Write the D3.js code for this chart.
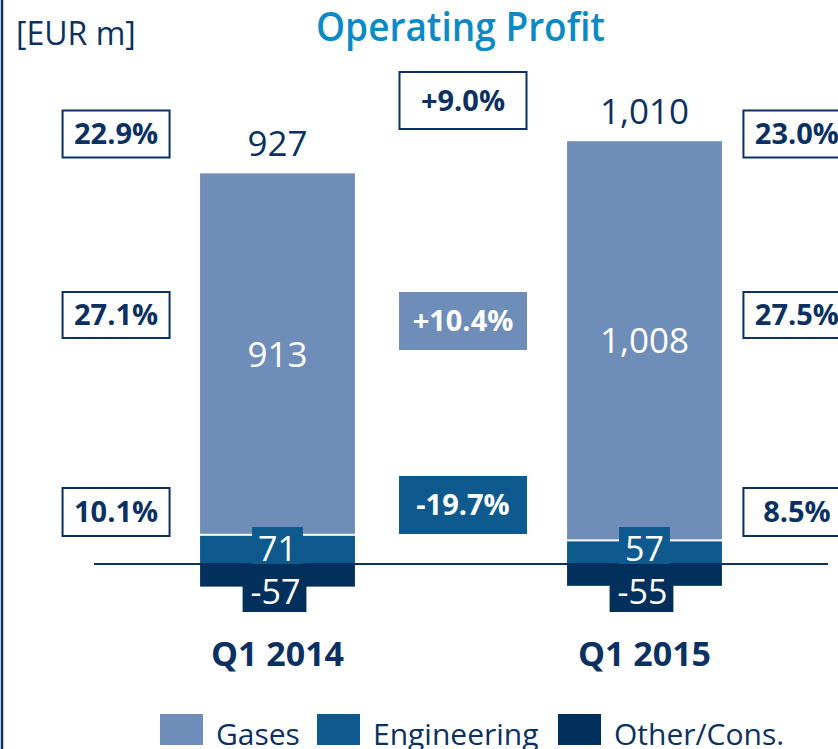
<!DOCTYPE html>
<html>
<head>
<meta charset="utf-8">
<script src="https://cdn.jsdelivr.net/npm/d3@7/dist/d3.min.js"></script>
<style>
  html, body { margin: 0; padding: 0; background: #fff; }
  svg { display: block; }
  text { font-family: "Open Sans", "Noto Sans", sans-serif; }
</style>
</head>
<body>
<svg id="chart" width="838" height="749"></svg>
<script>
// ---- data ----
const categories = ["Q1 2014", "Q1 2015"];
const gases = [913, 1008];
const engineering = [71, 57];
const other = [-57, -55];
const totals = [927, 1010];
const totalMargin = ["22.9%", "23.0%"];
const gasesMargin = ["27.1%", "27.5%"];
const engineeringMargin = ["10.1%", "8.5%"];
const changeTotal = "+9.0%";
const changeGases = "+10.4%";
const changeEngineering = "-19.7%";
const legendLabels = ["Gases", "Engineering", "Other/Cons."];

// ---- styles ----
const C = {
  gases: "#6e8db8",
  eng: "#0e5a8f",
  other: "#02305c",
  navy: "#0b3162",
  title: "#0a8ac6"
};
const fmt = v => d3.format(",")(v).replace("\u2212", "-");

const svg = d3.select("#chart");

const x = d3.scaleBand().domain(categories).range([94, 828])
  .paddingInner(0.578).paddingOuter(0.289);
const y = d3.scaleLinear().domain([0, 1000]).range([564, 167]);

// left frame line
svg.append("line").attr("x1", 2).attr("x2", 2).attr("y1", 0).attr("y2", 749)
  .attr("stroke", C.navy).attr("stroke-width", 2.5);

// unit and title
svg.append("text").attr("x", 16).attr("y", 45).attr("fill", C.navy)
  .attr("font-size", 32).text("[EUR m]");
svg.append("text").attr("x", 316).attr("y", 41)
  .attr("fill", C.title).attr("font-size", 39).attr("font-weight", 600)
  .attr("textLength", 289).attr("lengthAdjust", "spacingAndGlyphs")
  .text("Operating Profit");

const rows = categories.map((c, i) => ({
  cat: c, gases: gases[i], eng: engineering[i], other: other[i], total: totals[i]
}));

const bw = x.bandwidth();
const g = svg.append("g");

// Gases
g.selectAll(".gases").data(rows).join("rect")
  .attr("x", d => x(d.cat)).attr("width", bw)
  .attr("y", d => y(d.eng + d.gases))
  .attr("height", d => y(d.eng) - y(d.eng + d.gases) - 2)
  .attr("fill", C.gases);
// Engineering
g.selectAll(".eng").data(rows).join("rect")
  .attr("x", d => x(d.cat)).attr("width", bw)
  .attr("y", d => y(d.eng)).attr("height", d => y(0) - y(d.eng))
  .attr("fill", C.eng);
// Other
g.selectAll(".oth").data(rows).join("rect")
  .attr("x", d => x(d.cat)).attr("width", bw)
  .attr("y", y(0)).attr("height", d => y(d.other) - y(0))
  .attr("fill", C.other);

// zero line
svg.append("line").attr("x1", 94).attr("x2", 828).attr("y1", y(0)).attr("y2", y(0))
  .attr("stroke", C.navy).attr("stroke-width", 2);

// totals above
g.selectAll(".tot").data(rows).join("text")
  .attr("x", d => x(d.cat) + bw / 2).attr("y", d => y(d.eng + d.gases) - 17)
  .attr("text-anchor", "middle").attr("fill", C.navy).attr("font-size", 35)
  .text(d => fmt(d.total));

// gases values inside
g.selectAll(".gv").data(rows).join("text")
  .attr("x", d => x(d.cat) + bw / 2)
  .attr("y", d => (y(d.eng + d.gases) + y(d.eng)) / 2 + 12)
  .attr("text-anchor", "middle").attr("fill", "#fff").attr("font-size", 35)
  .text(d => fmt(d.gases));

// engineering / other value labels (boxes sized to their text)
rows.forEach(d => {
  const cx = x(d.cat) + bw / 2;
  const r1 = svg.append("rect").attr("fill", C.eng);
  const t1 = svg.append("text").attr("x", cx).attr("y", y(0) - 3).attr("text-anchor", "middle")
    .attr("fill", "#fff").attr("font-size", 34).text(fmt(d.eng));
  const b1 = t1.node().getBBox();
  r1.attr("x", b1.x - 6).attr("width", b1.width + 12)
    .attr("y", y(0) - 37).attr("height", 37);
  const r2 = svg.append("rect").attr("fill", C.other);
  const t2 = svg.append("text").attr("x", cx - 2).attr("y", y(0) + 40).attr("text-anchor", "middle")
    .attr("fill", "#fff").attr("font-size", 34).text(fmt(d.other));
  const b2 = t2.node().getBBox();
  r2.attr("x", b2.x - 8).attr("width", b2.width + 14)
    .attr("y", y(0)).attr("height", 48);
});

// category labels
g.selectAll(".cat").data(rows).join("text")
  .attr("x", d => x(d.cat) + bw / 2).attr("y", 666)
  .attr("text-anchor", "middle").attr("fill", C.navy)
  .attr("font-size", 34).attr("font-weight", 700).text(d => d.cat);

// percentage boxes
function pctBox(cx, cy, w, h, label, fill, stroke, color) {
  svg.append("rect").attr("x", cx - w / 2).attr("y", cy - h / 2).attr("width", w)
    .attr("height", h).attr("fill", fill)
    .attr("stroke", stroke || "none").attr("stroke-width", 2);
  svg.append("text").attr("x", cx).attr("y", cy + 10).attr("text-anchor", "middle")
    .attr("fill", color).attr("font-size", 29).attr("font-weight", 700).text(label);
}
const leftCx = x(categories[0]) - 84;
const rightCx = x(categories[1]) + bw + 75;
const rowY = [134, 315, 512];
pctBox(leftCx, rowY[0], 107, 47, totalMargin[0], "#fff", C.navy, C.navy);
pctBox(leftCx, rowY[1], 107, 46, gasesMargin[0], "#fff", C.navy, C.navy);
pctBox(leftCx, rowY[2], 107, 48, engineeringMargin[0], "#fff", C.navy, C.navy);
pctBox(rightCx, rowY[0], 107, 47, totalMargin[1], "#fff", C.navy, C.navy);
pctBox(rightCx, rowY[1], 107, 46, gasesMargin[1], "#fff", C.navy, C.navy);
pctBox(rightCx, rowY[2], 107, 48, engineeringMargin[1], "#fff", C.navy, C.navy);

const midCx = (x(categories[0]) + bw + x(categories[1])) / 2 + 2;
pctBox(midCx, 100.5, 127, 57, changeTotal, "#fff", C.navy, C.navy);
pctBox(midCx, 321, 128, 58, changeGases, C.gases, null, "#fff");
pctBox(midCx, 505, 128, 58, changeEngineering, C.eng, null, "#fff");

// legend
const legendColors = [C.gases, C.eng, C.other];
const legendX = [160, 317, 558];
legendLabels.forEach((l, i) => {
  svg.append("rect").attr("x", legendX[i]).attr("y", 714).attr("width", 43)
    .attr("height", 31).attr("fill", legendColors[i]);
  svg.append("text").attr("x", legendX[i] + 56).attr("y", 745).attr("fill", C.navy)
    .attr("font-size", 30).text(l);
});
</script>
</body>
</html>
